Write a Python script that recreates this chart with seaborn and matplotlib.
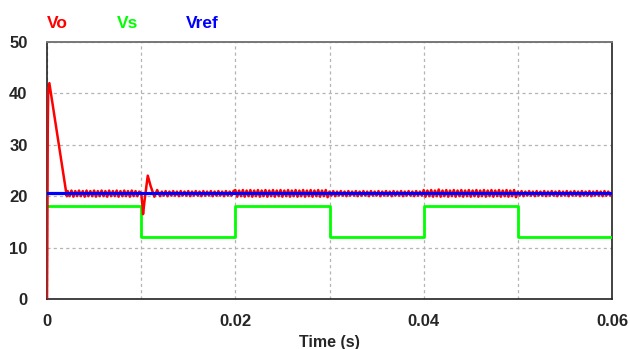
import numpy as np
import pandas as pd
import matplotlib
matplotlib.use("Agg")
import matplotlib.pyplot as plt
import seaborn as sns

# ---------------- data ----------------
# Vs : source voltage (step waveform)
vs_t = [0.0, 0.01, 0.02, 0.03, 0.04, 0.05, 0.06]
vs_v = [18, 12, 18, 12, 18, 12, 12]

# Vref : reference voltage
vref_t = [0.0, 0.06]
vref_v = [20.6, 20.6]

# Vo : output voltage, start-up transient
vo_start_t = [0.0, 0.00003, 0.00008, 0.00012, 0.00025, 0.0021]
vo_start_v = [0.0, 10.0, 33.0, 40.0, 42.0, 20.0]

# Vo ripple segments (values read per half ripple period)
vo_a_range = (0.0022, 0.0098)
vo_a = [21.0, 20.0, 21.1, 19.9, 21.0, 20.0, 21.1, 20.0, 21.0, 19.9,
        21.1, 20.0, 21.0, 20.0, 21.1, 19.9, 21.0, 20.0, 21.1, 20.0,
        21.0, 19.9, 21.1, 20.0, 21.0, 20.0, 21.1, 19.9, 21.0, 20.0,
        21.1, 20.0, 21.0, 19.9, 21.1, 20.0, 21.0, 20.0, 20.9]

# Vo transient at the Vs step-down (t = 0.01 s)
vo_tr_t = [0.0100, 0.01015, 0.0102, 0.01035, 0.0107, 0.0110, 0.0114, 0.0117, 0.0120]
vo_tr_v = [20.6, 18.0, 16.5, 19.0, 24.0, 22.0, 19.9, 21.2, 20.0]

vo_b_range = (0.0122, 0.0198)
vo_b = [20.9, 20.1, 21.0, 20.0, 20.9, 20.1, 21.0, 20.1, 20.9, 20.0,
        21.0, 20.1, 20.9, 20.1, 21.0, 20.0, 20.9, 20.1, 21.0, 20.1,
        20.9, 20.0, 21.0, 20.1, 20.9, 20.1, 21.0, 20.0, 20.9, 20.1,
        21.0, 20.1, 20.9, 20.0, 21.0, 20.1, 20.9, 20.1, 21.0]

vo_c_range = (0.0200, 0.0298)
vo_c = [21.2, 19.9, 21.1, 20.0, 21.2, 19.9, 21.1, 20.0, 21.2, 19.9,
        21.1, 20.0, 21.2, 19.9, 21.1, 20.0, 21.2, 19.9, 21.1, 20.0,
        21.2, 19.9, 21.1, 20.0, 21.2, 19.9, 21.1, 20.0, 21.2, 19.9,
        21.1, 20.0, 21.2, 19.9, 21.1, 20.0, 21.2, 19.9, 21.1, 20.0,
        21.2, 19.9, 21.1, 20.0, 21.2, 19.9, 21.1, 20.0, 21.2, 19.8]

vo_d_range = (0.0300, 0.0398)
vo_d = [20.9, 20.1, 21.0, 20.0, 20.9, 20.1, 21.0, 20.1, 20.9, 20.0,
        21.0, 20.1, 20.9, 20.1, 21.0, 20.0, 20.9, 20.1, 21.0, 20.1,
        20.9, 20.0, 21.0, 20.1, 20.9, 20.1, 21.0, 20.0, 20.9, 20.1,
        21.0, 20.1, 20.9, 20.0, 21.0, 20.1, 20.9, 20.1, 21.0, 20.0,
        20.9, 20.1, 21.0, 20.1, 20.9, 20.0, 21.0, 20.1, 20.9, 20.1]

vo_e_range = (0.0400, 0.0498)
vo_e = [21.2, 19.9, 21.1, 20.0, 21.2, 19.9, 21.1, 20.0, 21.3, 19.9,
        21.1, 20.0, 21.2, 19.9, 21.1, 20.0, 21.2, 19.9, 21.1, 20.0,
        21.2, 19.9, 21.1, 20.0, 21.2, 19.9, 21.1, 20.0, 21.2, 19.9,
        21.1, 20.0, 21.2, 19.9, 21.1, 20.0, 21.2, 19.9, 21.1, 20.0,
        21.2, 19.9, 21.1, 20.0, 21.2, 19.9, 21.1, 20.0, 21.2, 19.8]

vo_f_range = (0.0500, 0.0600)
vo_f = [20.9, 20.1, 21.0, 20.0, 20.9, 20.1, 21.0, 20.1, 20.9, 20.0,
        21.0, 20.1, 20.9, 20.1, 21.0, 20.0, 20.9, 20.1, 21.0, 20.1,
        20.9, 20.0, 21.0, 20.1, 20.9, 20.1, 21.0, 20.0, 20.9, 20.1,
        21.0, 20.1, 20.9, 20.0, 21.0, 20.1, 20.9, 20.1, 21.0, 20.0,
        20.9, 20.1, 21.0, 20.1, 20.9, 20.0, 21.0, 20.1, 20.9, 20.1, 20.8]

x_ticks = [0, 0.02, 0.04, 0.06]
x_tick_labels = ["0", "0.02", "0.04", "0.06"]
y_ticks = [0, 10, 20, 30, 40, 50]
series_names = ["Vo", "Vs", "Vref"]
series_colors = ["#ff0000", "#00ff00", "#0000ff"]

# ---------------- assemble Vo ----------------
def seg(rng, vals):
    return list(np.linspace(rng[0], rng[1], len(vals))), list(vals)

vo_t, vo_v = list(vo_start_t), list(vo_start_v)
t, v = seg(vo_a_range, vo_a); vo_t += t; vo_v += v
vo_t += vo_tr_t; vo_v += vo_tr_v
for rng, vals in [(vo_b_range, vo_b), (vo_c_range, vo_c), (vo_d_range, vo_d),
                  (vo_e_range, vo_e), (vo_f_range, vo_f)]:
    t, v = seg(rng, vals); vo_t += t; vo_v += v

df_vo = pd.DataFrame({"t": vo_t, "v": vo_v})
df_vs = pd.DataFrame({"t": vs_t, "v": vs_v})
df_ref = pd.DataFrame({"t": vref_t, "v": vref_v})

# ---------------- plot ----------------
sns.set_theme(style="white")
plt.rcParams["font.family"] = ["Liberation Sans", "DejaVu Sans"]

fig = plt.figure(figsize=(6.3, 3.49), dpi=100)
ax = fig.add_axes([47 / 630, 1 - 299 / 349, (612 - 47) / 630, (299 - 42) / 349])

sns.lineplot(data=df_vs, x="t", y="v", ax=ax, color=series_colors[1], lw=2.0,
             drawstyle="steps-post", estimator=None, sort=False, zorder=3)
sns.lineplot(data=df_vo, x="t", y="v", ax=ax, color=series_colors[0], lw=1.8,
             estimator=None, sort=False, zorder=4)
sns.lineplot(data=df_ref, x="t", y="v", ax=ax, color=series_colors[2], lw=2.3,
             estimator=None, sort=False, zorder=5)

ax.set_xlim(0, 0.06)
ax.set_ylim(0, 50)
ax.set_xticks(x_ticks)
ax.set_xticklabels(x_tick_labels)
ax.set_xticks([0.01, 0.03, 0.05], minor=True)
ax.set_yticks(y_ticks)
ax.tick_params(axis="both", which="both", length=0, labelsize=12)
ax.tick_params(axis="x", pad=11)
ax.tick_params(axis="y", pad=14)
for lab in ax.get_xticklabels() + ax.get_yticklabels():
    lab.set_fontweight("bold")
ax.grid(True, which="both", color="#b4b4b4", linestyle=(0, (2.5, 2.5)), lw=0.9)
ax.set_xlabel("Time (s)", fontsize=11.5, fontweight="bold", labelpad=4)
ax.set_ylabel("")

for side in ["left", "bottom", "right"]:
    ax.spines[side].set_color("#222222")
    ax.spines[side].set_linewidth(1.2)
ax.spines["top"].set_color("#777777")
ax.spines["top"].set_linewidth(1.4)

label_x = [47, 117, 186]
for name, col, px in zip(series_names, series_colors, label_x):
    fig.text(px / 630, 1 - 24 / 349, name, color=col, fontsize=12.5,
             fontweight="bold", ha="left", va="center")

fig.savefig("out.png", dpi=100)
